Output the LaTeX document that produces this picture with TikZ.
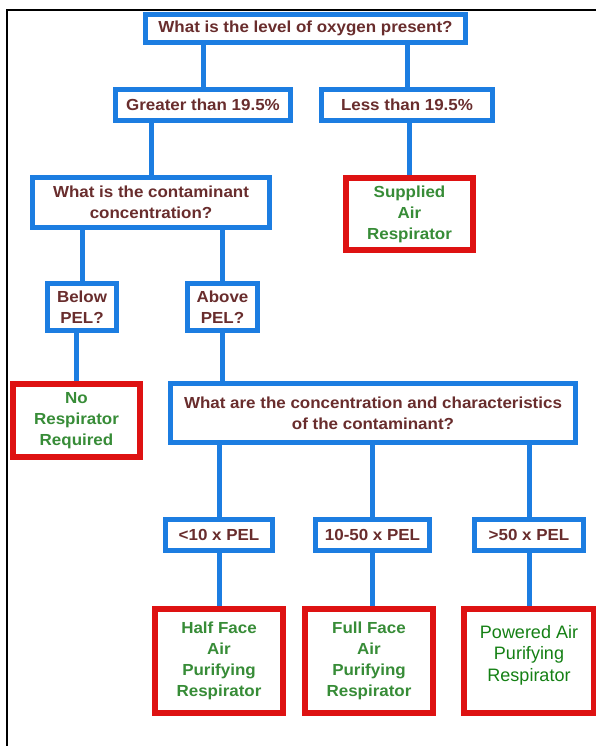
\documentclass[tikz,border=0pt]{standalone}
\usepackage{fontspec}
\setmainfont{Liberation Sans}
\newfontfamily\qfam[FakeStretch=1.06]{Liberation Sans}
\usetikzlibrary{backgrounds}
\definecolor{bblue}{RGB}{28,125,225}
\definecolor{rred}{RGB}{222,18,18}
\definecolor{maroon}{RGB}{105,45,45}
\definecolor{ggreen}{RGB}{55,140,55}
\definecolor{pgreen}{RGB}{20,128,20}
\tikzset{
  qbox/.style={draw=bblue, line width=5pt, fill=white, text=maroon, align=center, inner sep=0pt,
    font=\qfam\fontsize{16}{21}\selectfont\bfseries},
  rbox/.style={draw=rred, line width=6pt, fill=white, text=ggreen, align=center, inner sep=0pt,
    font=\qfam\fontsize{16}{21}\selectfont\bfseries},
  link/.style={draw=bblue, line width=5pt},
  frameline/.style={draw=black, line width=2.5pt, line join=miter}
}
\begin{document}
\begin{tikzpicture}[x=1pt,y=-1pt]
\useasboundingbox (0,0) rectangle (595,746);
\draw[frameline] (7,746) -- (7,10) -- (596,10);

\node[qbox, minimum width=320pt, minimum height=28pt] (q1) at (305.5,28.5) {What is the level of oxygen present?};
\node[qbox, minimum width=175pt, minimum height=31.5pt] (gt) at (203,105.25) {Greater than 19.5\%};
\node[qbox, minimum width=171pt, minimum height=31.5pt] (lt) at (407,105.25) {Less than 19.5\%};
\node[qbox, minimum width=237pt, minimum height=50pt] (q2) at (151,202.5) {What is the contaminant\\concentration?};
\node[rbox, minimum width=127pt, minimum height=72pt] (sup) at (409.5,214) {Supplied\\Air\\Respirator};
\node[qbox, minimum width=69pt, minimum height=47pt] (below) at (82,307) {Below\\PEL?};
\node[qbox, minimum width=70pt, minimum height=47pt] (above) at (222.5,307) {Above\\PEL?};
\node[rbox, minimum width=127pt, minimum height=73pt] (nores) at (76.5,420.5) {No\\Respirator\\Required};
\node[qbox, minimum width=405pt, minimum height=59pt] (q3) at (373,413) {What are the concentration and characteristics\\of the contaminant?};
\node[qbox, minimum width=107pt, minimum height=31pt] (p1) at (219,535) {<10 x PEL};
\node[qbox, minimum width=114pt, minimum height=31pt] (p2) at (372.5,535) {10-50 x PEL};
\node[qbox, minimum width=109pt, minimum height=31pt] (p3) at (529,535) {>50 x PEL};
\node[rbox, minimum width=128pt, minimum height=104pt] (r1) at (219,661) {Half Face\\Air\\Purifying\\Respirator};
\node[rbox, minimum width=128pt, minimum height=104pt] (r2) at (369,661) {Full Face\\Air\\Purifying\\Respirator};
\node[rbox, minimum width=130pt, minimum height=104pt, text=pgreen, text depth=16pt,
  font=\fontsize{18}{21.5}\selectfont] (r3) at (529,661) {Powered Air\\Purifying\\Respirator};

\begin{scope}[on background layer]
\draw[link] (q1.south -| gt) -- (gt.north);
\draw[link] (q1.south -| lt) -- (lt.north);
\draw[link] (gt.south -| q2) -- (q2.north);
\draw[link] (lt.south -| sup) -- (sup.north);
\draw[link] (q2.south -| below) -- (below.north);
\draw[link] (q2.south -| above) -- (above.north);
\draw[link] (below.south -| nores) -- (nores.north);
\draw[link] (above.south) -- (above.south |- q3.north);
\draw[link] (q3.south -| p1) -- (p1.north);
\draw[link] (q3.south -| p2) -- (p2.north);
\draw[link] (q3.south -| p3) -- (p3.north);
\draw[link] (p1.south -| r1) -- (r1.north);
\draw[link] (p2.south) -- (p2.south |- r2.north);
\draw[link] (p3.south -| r3) -- (r3.north);
\end{scope}
\end{tikzpicture}
\end{document}
